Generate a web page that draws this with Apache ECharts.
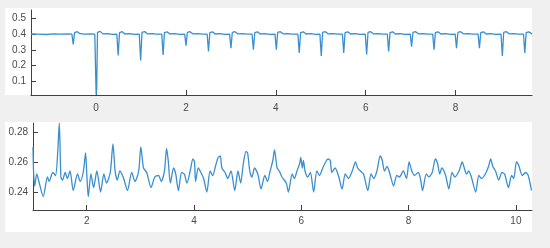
<!DOCTYPE html>
<html>
<head>
<meta charset="utf-8">
<script src="https://cdn.jsdelivr.net/npm/echarts@6/dist/echarts.min.js"></script>
<style>
  html, body { margin: 0; padding: 0; background: #f0f0f0; }
  #main { width: 550px; height: 248px; }
</style>
</head>
<body>
<div id="main"></div>
<script>
// 上图：时间 / 幅值
var topX = [-1.45,-1.3,-1.1,-0.95,-0.8,-0.62,-0.54,-0.51,-0.48,-0.42,-0.36,-0.25,-0.12,
  -0.03,0.0,0.012,0.03,0.09,0.15,0.26,0.36,
  0.46,0.49,0.52,0.58,0.64,0.75,0.85,
  0.96,0.99,1.02,1.08,1.14,1.25,1.35,
  1.46,1.49,1.52,1.58,1.64,1.75,1.85,
  1.97,2.0,2.03,2.09,2.15,2.26,2.36,
  2.47,2.5,2.53,2.59,2.65,2.76,2.86,
  2.97,3.0,3.03,3.09,3.15,3.26,3.36,
  3.47,3.5,3.53,3.59,3.65,3.76,3.86,
  3.98,4.01,4.04,4.1,4.16,4.27,4.37,
  4.49,4.52,4.55,4.61,4.67,4.78,4.88,
  4.98,5.01,5.04,5.1,5.16,5.27,5.37,
  5.48,5.51,5.54,5.6,5.66,5.77,5.87,
  5.99,6.02,6.05,6.11,6.17,6.28,6.38,
  6.48,6.51,6.54,6.6,6.66,6.77,6.87,
  6.99,7.02,7.05,7.11,7.17,7.28,7.38,
  7.49,7.52,7.55,7.61,7.67,7.78,7.88,
  7.99,8.02,8.05,8.11,8.17,8.28,8.38,
  8.5,8.53,8.56,8.62,8.68,8.79,8.89,
  9.01,9.04,9.07,9.13,9.19,9.3,9.4,
  9.51,9.54,9.57,9.63,9.7];
var topY = [0.401,0.400,0.398,0.402,0.400,0.401,0.400,0.335,0.410,0.416,0.403,0.400,0.401,
  0.400,0.012,0.050,0.412,0.418,0.402,0.404,0.399,
  0.400,0.263,0.410,0.416,0.401,0.404,0.399,
  0.400,0.232,0.411,0.417,0.402,0.403,0.400,
  0.400,0.267,0.410,0.415,0.401,0.404,0.399,
  0.400,0.327,0.411,0.416,0.402,0.403,0.400,
  0.400,0.290,0.410,0.415,0.401,0.404,0.399,
  0.400,0.310,0.411,0.416,0.402,0.403,0.400,
  0.400,0.300,0.410,0.415,0.401,0.404,0.399,
  0.400,0.300,0.411,0.416,0.402,0.403,0.400,
  0.400,0.280,0.410,0.415,0.401,0.404,0.399,
  0.400,0.260,0.411,0.416,0.402,0.403,0.400,
  0.400,0.280,0.410,0.415,0.401,0.404,0.399,
  0.400,0.270,0.411,0.416,0.402,0.403,0.400,
  0.400,0.290,0.410,0.415,0.401,0.404,0.399,
  0.400,0.320,0.411,0.416,0.402,0.403,0.400,
  0.400,0.300,0.410,0.415,0.401,0.404,0.399,
  0.400,0.310,0.411,0.416,0.402,0.403,0.400,
  0.400,0.310,0.410,0.415,0.401,0.404,0.399,
  0.400,0.260,0.411,0.416,0.402,0.403,0.400,
  0.400,0.280,0.410,0.415,0.402];

// 下图
var botX = [1.00,1.01,1.03,1.07,1.11,1.19,1.27,1.30,1.37,1.42,1.46,1.49,1.52,1.55,1.60,1.64,1.69,1.75,1.83,1.88,
  1.94,1.98,2.00,2.03,2.08,2.13,2.19,2.26,2.32,2.37,2.44,2.49,2.53,2.57,2.62,2.69,2.76,2.84,2.90,2.97,
  3.01,3.06,3.12,3.20,3.27,3.34,3.39,3.45,3.49,3.52,3.56,3.62,3.66,3.71,3.77,3.82,3.87,3.93,3.98,4.01,
  4.03,4.08,4.13,4.18,4.24,4.30,4.35,4.40,4.45,4.49,4.52,4.58,4.63,4.69,4.76,4.82,4.87,4.92,4.97,5.00,
  5.04,5.08,5.13,5.19,5.25,5.32,5.37,5.42,5.47,5.50,5.55,5.59,5.64,5.72,5.76,5.83,5.87,5.92,5.97,5.99,
  6.02,6.04,6.07,6.12,6.17,6.23,6.29,6.34,6.40,6.47,6.50,6.54,6.57,6.63,6.70,6.76,6.82,6.88,6.95,7.01,
  7.05,7.10,7.16,7.24,7.30,7.35,7.41,7.47,7.51,7.55,7.60,7.66,7.72,7.78,7.83,7.90,7.96,8.01,8.06,8.11,
  8.18,8.22,8.26,8.33,8.38,8.44,8.50,8.54,8.58,8.62,8.69,8.75,8.81,8.86,8.94,9.00,9.03,9.08,9.12,9.17,
  9.25,9.31,9.36,9.43,9.49,9.53,9.57,9.62,9.68,9.74,9.79,9.86,9.92,9.96,10.01,10.05,10.12,10.18,10.23,10.29];
var botY = [0.270,0.254,0.244,0.252,0.247,0.237,0.250,0.247,0.253,0.251,0.266,0.286,0.250,0.248,0.253,0.249,0.254,0.241,0.252,0.247,
  0.254,0.266,0.254,0.237,0.252,0.243,0.254,0.240,0.252,0.246,0.253,0.272,0.254,0.248,0.254,0.249,0.241,0.253,0.247,0.254,
  0.270,0.256,0.253,0.243,0.250,0.251,0.247,0.254,0.269,0.261,0.246,0.256,0.252,0.241,0.253,0.252,0.246,0.254,0.262,0.260,
  0.247,0.256,0.253,0.249,0.240,0.254,0.251,0.257,0.263,0.264,0.256,0.253,0.249,0.254,0.241,0.254,0.246,0.259,0.267,0.266,
  0.254,0.250,0.256,0.252,0.242,0.251,0.247,0.254,0.261,0.268,0.256,0.254,0.250,0.246,0.240,0.252,0.249,0.254,0.259,0.263,
  0.256,0.261,0.254,0.250,0.253,0.240,0.254,0.251,0.256,0.261,0.262,0.261,0.253,0.256,0.250,0.242,0.252,0.249,0.254,0.260,
  0.256,0.254,0.252,0.241,0.252,0.249,0.254,0.264,0.261,0.254,0.257,0.251,0.244,0.251,0.250,0.254,0.249,0.260,0.254,0.251,
  0.253,0.249,0.241,0.252,0.250,0.253,0.262,0.259,0.252,0.256,0.251,0.242,0.253,0.250,0.254,0.260,0.257,0.252,0.254,0.250,
  0.240,0.251,0.249,0.252,0.257,0.262,0.257,0.254,0.248,0.253,0.252,0.243,0.251,0.249,0.260,0.258,0.251,0.253,0.251,0.241];

function pairs(xs, ys) {
  var out = [];
  for (var i = 0; i < xs.length; i++) out.push([xs[i], ys[i]]);
  return out;
}

var chart = echarts.init(document.getElementById('main'));

var lineColor = '#3a8fd1';
var axisColor = '#404040';
var labelStyle = { color: '#4a4a4a', fontSize: 10, fontFamily: 'Liberation Sans', showMinLabel: false, showMaxLabel: false };

function xAx(idx, min, max, margin) {
  return {
    type: 'value', gridIndex: idx, min: min, max: max, splitNumber: 5,
    axisLine: { show: true, onZero: false, lineStyle: { color: axisColor } },
    axisTick: { show: true, inside: true, length: 5, lineStyle: { color: axisColor } },
    axisLabel: Object.assign({ margin: margin }, labelStyle),
    splitLine: { show: false }
  };
}
function yAx(idx, min, max, split) {
  return {
    type: 'value', gridIndex: idx, min: min, max: max, splitNumber: split,
    axisLine: { show: true, onZero: false, lineStyle: { color: axisColor } },
    axisTick: { show: true, inside: true, length: 5, lineStyle: { color: axisColor } },
    axisLabel: Object.assign({ margin: 5 }, labelStyle),
    splitLine: { show: false }
  };
}

var option = {
  backgroundColor: '#f0f0f0',
  animation: false,
  graphic: [
    { type: 'rect', z: -10, shape: { x: 5, y: 8, width: 527, height: 87 }, style: { fill: '#ffffff' } },
    { type: 'rect', z: -10, shape: { x: 5, y: 122, width: 527, height: 110 }, style: { fill: '#ffffff' } }
  ],
  grid: [
    { left: 31, top: 10, width: 501, height: 85 },
    { left: 33, top: 123, width: 499, height: 87 }
  ],
  xAxis: [xAx(0, -1.45, 9.7, 8), xAx(1, 1.0, 10.3, 6)],
  yAxis: [yAx(0, 0.01, 0.555, 5), yAx(1, 0.228, 0.286, 3)],
  series: [
    {
      type: 'line', xAxisIndex: 0, yAxisIndex: 0, data: pairs(topX, topY),
      showSymbol: false, lineStyle: { color: lineColor, width: 1.3 }
    },
    {
      type: 'line', xAxisIndex: 1, yAxisIndex: 1, data: pairs(botX, botY),
      showSymbol: false, smooth: 0.25, lineStyle: { color: lineColor, width: 1.3 }
    }
  ]
};
chart.setOption(option);
</script>
</body>
</html>
